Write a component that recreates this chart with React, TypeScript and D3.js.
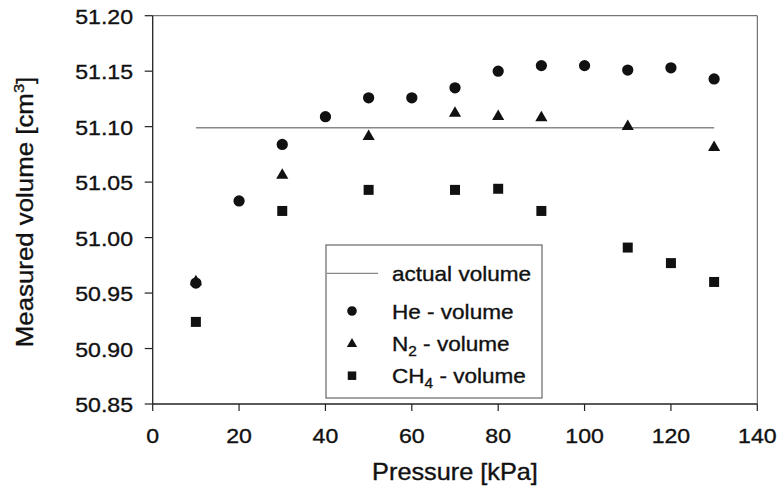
import React from "react";
import * as d3 from "d3";

const pressures = [10, 20, 30, 40, 50, 60, 70, 80, 90, 100, 110, 120, 130];
const heVolume = [50.959, 51.033, 51.084, 51.109, 51.126, 51.126, 51.135, 51.15, 51.155, 51.155, 51.151, 51.153, 51.143];
const n2Pressures = [10, 30, 50, 70, 80, 90, 110, 130];
const n2Volume = [50.961, 51.057, 51.092, 51.113, 51.11, 51.109, 51.101, 51.082];
const ch4Pressures = [10, 30, 50, 70, 80, 90, 110, 120, 130];
const ch4Volume = [50.924, 51.024, 51.043, 51.043, 51.044, 51.024, 50.991, 50.977, 50.96];
const actualVolume = 51.099;
const actualRange = [10, 130];
const xTicks = [0, 20, 40, 60, 80, 100, 120, 140];
const yTicks = [50.85, 50.9, 50.95, 51.0, 51.05, 51.1, 51.15, 51.2];

const W = 779;
const H = 490;
const FONT = "Arial, 'Liberation Sans', Helvetica, sans-serif";
const SX = 1.1;

export default function App() {
  const x = d3.scaleLinear().domain([0, 140]).range([152.7, 757.3]);
  const y = d3.scaleLinear().domain([50.85, 51.2]).range([404, 15.7]);
  const fmt = d3.format(".2f");
  const tri = d3.symbol().type(d3.symbolTriangle).size(64)();
  const sq = d3.symbol().type(d3.symbolSquare).size(100)();
  const circ = d3.symbol().type(d3.symbolCircle).size(100)();
  const ink = "#111";
  const textStroke = { stroke: "#111", strokeWidth: 0.35 };

  const legendX = 326, legendY = 245, legendW = 216, legendH = 153;
  const rows = [273.3, 311, 343, 375.7];

  return (
    <svg width={W} height={H} style={{ position: "absolute", left: 0, top: 0, background: "#fff" }} fontFamily={FONT}>
      <rect width={W} height={H} fill="#fff" />
      {/* frame */}
      <line x1={x(0)} x2={x(140)} y1={y(51.2)} y2={y(51.2)} stroke="#555" strokeWidth={1} />
      <line x1={x(140)} x2={x(140)} y1={y(51.2)} y2={y(50.85)} stroke="#555" strokeWidth={1} />
      {/* axes */}
      <line x1={x(0)} x2={x(140)} y1={y(50.85)} y2={y(50.85)} stroke="#222" strokeWidth={1.3} />
      <line x1={x(0)} x2={x(0)} y1={y(51.2)} y2={y(50.85)} stroke="#222" strokeWidth={1.3} />
      {xTicks.map((t) => (
        <g key={"xt" + t}>
          <line x1={x(t)} x2={x(t)} y1={y(50.85)} y2={y(50.85) + 7} stroke="#222" strokeWidth={1.2} />
          <text transform={`translate(${x(t)},443) scale(${SX},1)`} textAnchor="middle" fontSize={21} fill={ink} {...textStroke}>
            {t}
          </text>
        </g>
      ))}
      {yTicks.map((t) => (
        <g key={"yt" + t}>
          <line x1={x(0) - 8} x2={x(0)} y1={y(t)} y2={y(t)} stroke="#222" strokeWidth={1.2} />
          <text transform={`translate(133,${y(t) + 8}) scale(${SX},1)`} textAnchor="end" fontSize={21} fill={ink} {...textStroke}>
            {fmt(t)}
          </text>
        </g>
      ))}
      {/* axis titles */}
      <text transform={`translate(${(x(0) + x(140)) / 2},480) scale(${SX},1)`} textAnchor="middle" fontSize={23} fill={ink} {...textStroke}>
        Pressure [kPa]
      </text>
      <text transform={`translate(33,212) rotate(-90) scale(${SX},1)`} textAnchor="middle" fontSize={23.5} fill={ink} {...textStroke}>
        Measured volume [cm<tspan dy={-9} fontSize={15}>3</tspan><tspan dy={9}>]</tspan>
      </text>

      {/* actual volume line */}
      <line x1={x(actualRange[0])} x2={x(actualRange[1])} y1={y(actualVolume)} y2={y(actualVolume)} stroke="#888" strokeWidth={1.3} />

      {/* data */}
      {n2Pressures.map((p, i) => (
        <path key={"n" + p} d={tri!} transform={`translate(${x(p)},${y(n2Volume[i]) + 1})`} fill={ink} />
      ))}
      {pressures.map((p, i) => (
        <path key={"h" + p} d={circ!} transform={`translate(${x(p)},${y(heVolume[i])})`} fill={ink} />
      ))}
      {ch4Pressures.map((p, i) => (
        <path key={"c" + p} d={sq!} transform={`translate(${x(p)},${y(ch4Volume[i])})`} fill={ink} />
      ))}

      {/* legend */}
      <rect x={legendX} y={legendY} width={legendW} height={legendH} fill="#fff" stroke="#666" strokeWidth={1.2} />
      <line x1={326.7} x2={378} y1={rows[0]} y2={rows[0]} stroke="#888" strokeWidth={1.3} />
      <path d={circ!} transform={`translate(352,${rows[1]}) scale(0.85)`} fill={ink} />
      <path d={tri!} transform={`translate(352,${rows[2] + 1}) scale(0.85)`} fill={ink} />
      <path d={sq!} transform={`translate(352,${rows[3]}) scale(0.85)`} fill={ink} />
      <text transform={`translate(392,${rows[0] + 7.5}) scale(${SX},1)`} fontSize={20.5} fill={ink} {...textStroke}>actual volume</text>
      <text transform={`translate(392,${rows[1] + 7.5}) scale(${SX},1)`} fontSize={20.5} fill={ink} {...textStroke}>He - volume</text>
      <text transform={`translate(392,${rows[2] + 7.5}) scale(${SX},1)`} fontSize={20.5} fill={ink} {...textStroke}>
        N<tspan dy={5} fontSize={14}>2</tspan><tspan dy={-5}> - volume</tspan>
      </text>
      <text transform={`translate(392,${rows[3] + 7.5}) scale(${SX},1)`} fontSize={20.5} fill={ink} {...textStroke}>
        CH<tspan dy={5} fontSize={14}>4</tspan><tspan dy={-5}> - volume</tspan>
      </text>
    </svg>
  );
}
